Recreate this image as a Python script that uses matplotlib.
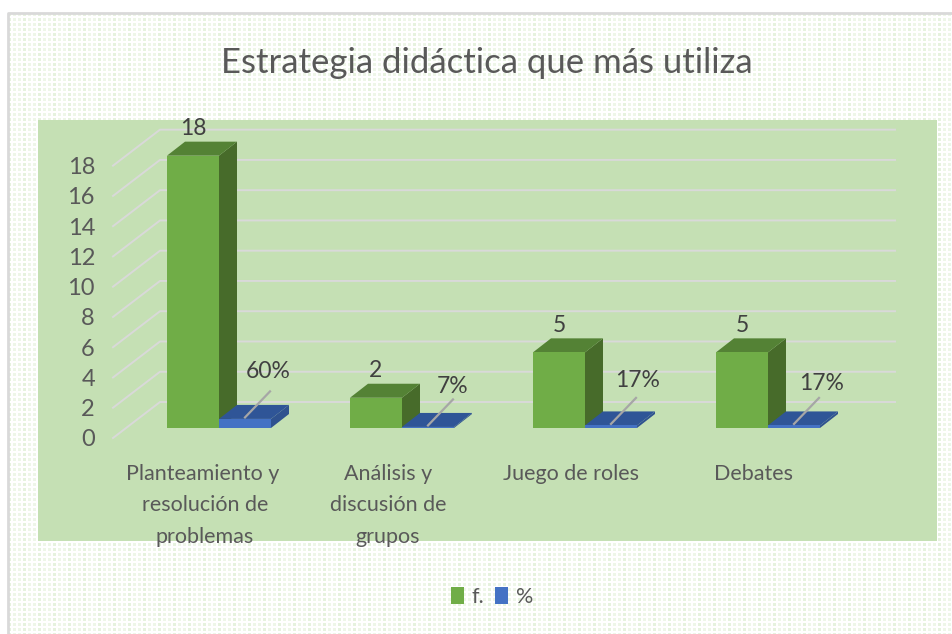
import numpy as np
import matplotlib
matplotlib.use('Agg')
import matplotlib.pyplot as plt
from matplotlib.colors import ListedColormap
from matplotlib.lines import Line2D
from matplotlib.patches import Polygon, Rectangle

plt.rcParams['font.family'] = ['Lato', 'DejaVu Sans']

categories = ['Planteamiento y \nresolución de\nproblemas', 'Análisis y\ndiscusión de\ngrupos',
              'Juego de roles', 'Debates']
freq = [18, 2, 5, 5]
pct = [60, 7, 17, 17]
pct_labels = ['60%', '7%', '17%', '17%']
yticks = np.arange(0, 20, 2)

W, H = 952, 634
# pixels per unit on each axis
px_x = 183.0
px_y = 15.13
text_col = '#595959'
green, green_top, green_side = '#70AD47', '#548235', '#476B2A'
blue, blue_top, blue_side = '#4472C4', '#2F5597', '#2F528F'
# the percent labels do not sit at one fixed distance from their leaders
label_offsets = [(-1, 7), (0, 2), (1, 5), (2, 3)]

fig = plt.figure(figsize=(W / 100, H / 100), dpi=100, facecolor='white')


def fig_rect(x0, y0, x1, y1):
    return [x0 / W, 1 - y1 / H, (x1 - x0) / W, (y1 - y0) / H]


###############################################################################
# Background: dotted outer frame and the flat green plot area.

bg = fig.add_axes(fig_rect(8, 13, W, H), zorder=-2)
bg.axis('off')
yy, xx = np.mgrid[0:H - 13, 0:W - 8]
dots = ((xx % 5 < 3) & (yy % 5 < 3)).astype(float) * (0.55 + 0.45 * (xx % 15 < 5))
bg.imshow(dots, cmap=ListedColormap(['#FFFFFF', '#F8FBF5', '#EEF6E8', '#E6F2DE']),
          aspect='auto', interpolation='bilinear')
fig.add_artist(Line2D([8 / W, 8 / W, 1], [0, 1 - 13 / H, 1 - 13 / H], transform=fig.transFigure,
                      color='#D9D9D9', lw=2, zorder=-1))
fig.add_artist(Rectangle((38 / W, 1 - 541 / H), (937 - 38) / W, 421 / H,
                         transform=fig.transFigure, fc='#C5E0B4', ec='none', zorder=-1))

###############################################################################
# Main axes. The value 0 sits on the front end of the wall stubs.

left, right, base, top = 113, 895, 438, 120
ax = fig.add_axes(fig_rect(left, top, right, base), zorder=2)
ax.patch.set_alpha(0)
ax.set_xlim((left - 219) / px_x, (right - 219) / px_x)
ax.set_ylim(0, (base - top) / px_y)
for s in ax.spines.values():
    s.set_visible(False)

# wall depth and bar depth, axis units
wall_dx, wall_dy = 47 / px_x, 36 / px_y
bar_dx, bar_dy = 18 / px_x, 14 / px_y
floor = 10 / px_y
width = 52 / px_x
xmin = ax.get_xlim()[0]
xmax = ax.get_xlim()[1]

for v in yticks:
    ax.plot([xmin, xmin + wall_dx, xmax], [v, v + wall_dy, v + wall_dy],
            color='#D9D9D9', lw=1.4, zorder=1, clip_on=False)


def box(x, v, front, side, top_col, z):
    y0, y1 = floor, floor + v
    x1 = x + width
    ax.add_patch(Polygon([(x1, y0), (x1 + bar_dx, y0 + bar_dy), (x1 + bar_dx, y1 + bar_dy), (x1, y1)],
                         fc=side, ec='none', zorder=z, clip_on=False))
    ax.add_patch(Polygon([(x, y1), (x + bar_dx, y1 + bar_dy), (x1 + bar_dx, y1 + bar_dy), (x1, y1)],
                         fc=top_col, ec='none', zorder=z, clip_on=False))
    return ax.bar(x, v, width, bottom=y0, align='edge', color=front, zorder=z + 0.1, clip_on=False)


x = np.arange(len(freq))
for i in x:
    h_g = box(i - width, freq[i], green, green_side, green_top, 3)
    h_b = box(i, pct[i] / 100, blue, blue_side, blue_top, 4)

    ax.annotate(str(freq[i]), (i - width / 2, floor + freq[i] + bar_dy),
                xytext=(0, 2), textcoords='offset points', ha='center', va='bottom',
                fontsize=16.5, color='#404040', zorder=6, annotation_clip=False)

    # leader line from the small bar up to its label
    start = (i + width / 2, floor + pct[i] / 100 + 0.1)
    end = (start[0] + 25 / px_x, start[1] + 26 / px_y)
    ax.plot([start[0], end[0]], [start[1], end[1]], color='#A6A6A6', lw=1.6, zorder=5, clip_on=False)
    ax.annotate(pct_labels[i], end, xytext=label_offsets[i], textcoords='offset points',
                ha='center', va='bottom', fontsize=16.5, color='#404040', zorder=6, annotation_clip=False)

ax.set_xticks(x + (205 - 219) / px_x, categories, linespacing=1.72, va='top')
ax.set_yticks(yticks)
ax.tick_params(axis='x', length=0, pad=18.5, labelsize=15.5, labelcolor=text_col)
ax.tick_params(axis='y', length=0, pad=13, labelsize=17, labelcolor=text_col)

ax.legend([h_g, h_b], ['f.', '%'], ncol=2, frameon=False, loc='center',
          bbox_to_anchor=(492 / W, 1 - 597 / H), bbox_transform=fig.transFigure,
          fontsize=15.5, labelcolor=text_col, handlelength=0.6, handleheight=0.8,
          handletextpad=0.35, columnspacing=0.5)

fig.text(487 / W, 1 - 63 / H, 'Estrategia didáctica que más utiliza', ha='center', va='center',
         fontsize=25, color=text_col)

fig.savefig('out.png', dpi=100)
